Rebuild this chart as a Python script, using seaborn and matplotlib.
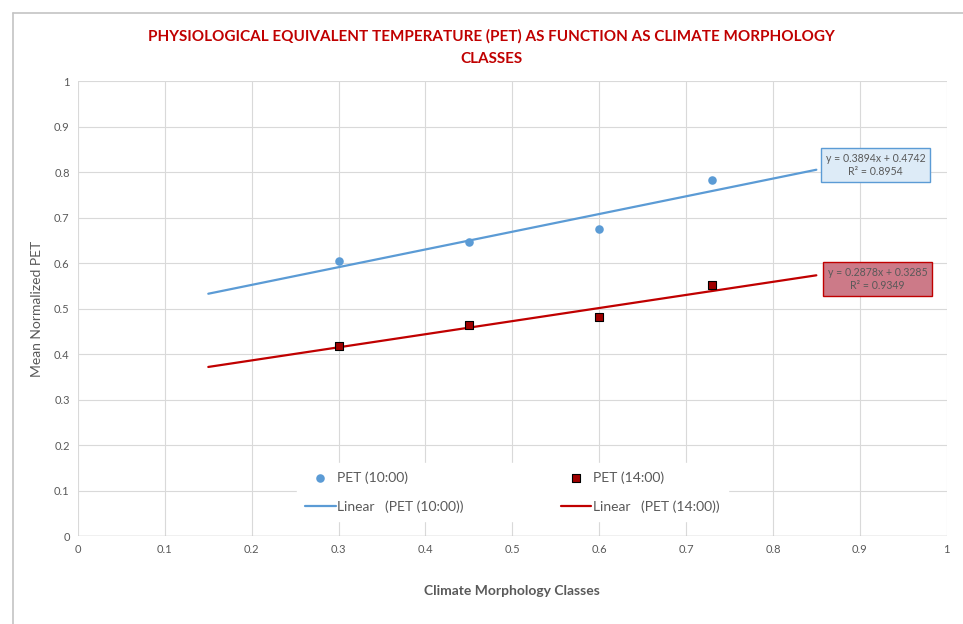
import numpy as np
import pandas as pd
import matplotlib.pyplot as plt
import seaborn as sns
from matplotlib.lines import Line2D

# data
classes = [0.3, 0.45, 0.6, 0.73]
pet_10 = [0.604, 0.646, 0.675, 0.782]
pet_14 = [0.418, 0.464, 0.481, 0.552]

# excel trendlines (slope, intercept, r2) and their x range
fit_10 = [0.3894, 0.4742, 0.8954]
fit_14 = [0.2878, 0.3285, 0.9349]
trend_x = [0.15, 0.85]

blue = "#5b9bd5"
red_line = "#c00000"
red_mark = "#a00000"

sns.set_style("whitegrid", {"grid.color": "#d9d9d9"})
plt.rcParams["font.family"] = ["Lato", "DejaVu Sans"]

fig = plt.figure(figsize=(9.63, 6.24), dpi=100)
ax = fig.add_axes([0.081, 0.141, 0.902, 0.729])

# outer chart border (top and left edges)
fig.add_artist(Line2D([0.0135, 1.0], [0.979, 0.979], transform=fig.transFigure, color="#c4c4c4", linewidth=1.2))
fig.add_artist(Line2D([0.0135, 0.0135], [0.0, 0.979], transform=fig.transFigure, color="#c4c4c4", linewidth=1.2))

df = pd.DataFrame({"x": classes, "p10": pet_10, "p14": pet_14})
tx = np.array(trend_x)
tr = pd.DataFrame({"x": tx, "l10": fit_10[0] * tx + fit_10[1], "l14": fit_14[0] * tx + fit_14[1]})

sns.lineplot(data=tr, x="x", y="l10", ax=ax, color=blue, linewidth=1.6, label="Linear   (PET (10:00))")
sns.lineplot(data=tr, x="x", y="l14", ax=ax, color=red_line, linewidth=1.6, label="Linear   (PET (14:00))")
sns.scatterplot(data=df, x="x", y="p10", ax=ax, color=blue, s=38, edgecolor=blue, linewidth=0,
                label="PET (10:00)", zorder=5)
sns.scatterplot(data=df, x="x", y="p14", ax=ax, color=red_mark, marker="s", s=34, edgecolor="black",
                linewidth=0.8, label="PET (14:00)", zorder=5)

ax.set_xlim(0, 1)
ax.set_ylim(0, 1)
ticks = np.round(np.arange(0, 1.01, 0.1), 1)
ax.set_xticks(ticks)
ax.set_yticks(ticks)
ax.set_xticklabels([f"{t:g}" for t in ticks], fontsize=8, color="#595959")
ax.set_yticklabels([f"{t:g}" for t in ticks], fontsize=8, color="#595959")
ax.tick_params(length=0, pad=6)
for s in ax.spines.values():
    s.set_visible(False)
ax.axhline(0, color="#bfbfbf", linewidth=1, zorder=1)

ax.set_xlabel("Climate Morphology Classes", fontsize=10, fontweight="bold", color="#595959", labelpad=21)
ax.set_ylabel("Mean Normalized PET", fontsize=10, color="#595959", labelpad=8)

fig.text(0.51, 0.924, "PHYSIOLOGICAL EQUIVALENT TEMPERATURE (PET) AS FUNCTION AS CLIMATE MORPHOLOGY\nCLASSES",
         ha="center", va="center", fontsize=11, fontweight="bold", color="#c00000", linespacing=1.75)

# trendline equation boxes
ax.text(0.9185, 0.815, f"y = {fit_10[0]}x + {fit_10[1]}\nR² = {fit_10[2]}", ha="center", va="center",
        fontsize=7.6, color="#595959", linespacing=1.25,
        bbox=dict(boxstyle="square,pad=0.45", facecolor="#ddebf7", edgecolor=blue, linewidth=1))
ax.text(0.9205, 0.565, f"y = {fit_14[0]}x + {fit_14[1]}\nR² = {fit_14[2]}", ha="center", va="center",
        fontsize=7.6, color="#595959", linespacing=1.25,
        bbox=dict(boxstyle="square,pad=0.45", facecolor="#cc7a88", edgecolor=red_line, linewidth=1))

h, l = ax.get_legend_handles_labels()
order = [2, 0, 3, 1]
leg = ax.legend([h[i] for i in order], [l[i] for i in order], ncol=2, loc="center",
                bbox_to_anchor=(0.5, 0.097), frameon=True, facecolor="white", edgecolor="white",
                framealpha=1, fontsize=10, columnspacing=7, handlelength=2.2, handletextpad=0.1,
                labelspacing=1.2, borderpad=0.6)
for t in leg.get_texts():
    t.set_color("#595959")

fig.savefig("out.png", dpi=100)
